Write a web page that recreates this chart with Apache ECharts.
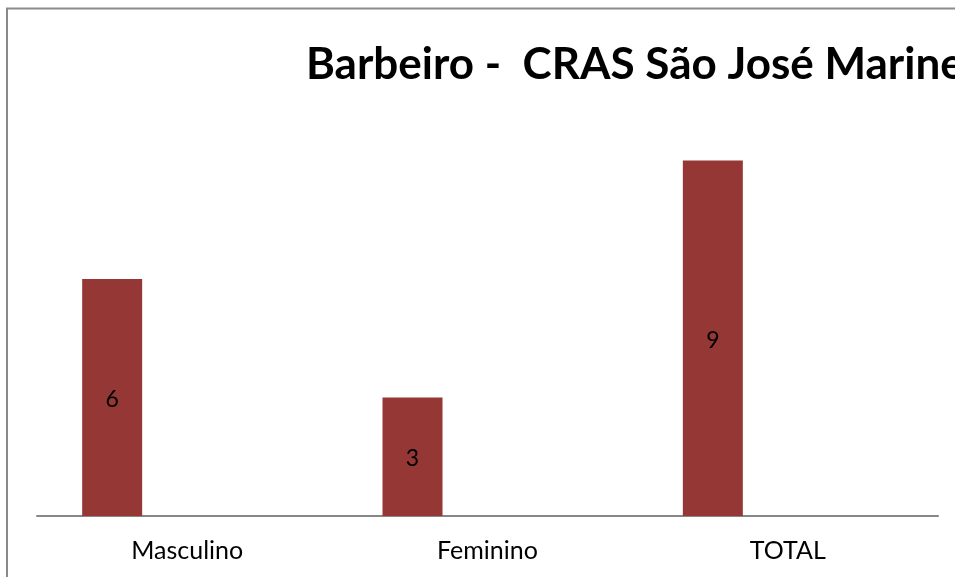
<!DOCTYPE html>
<html><head><meta charset="utf-8">
<script src="https://cdn.jsdelivr.net/npm/echarts@6/dist/echarts.min.js"></script>
<style>html,body{margin:0;padding:0;background:#fff}#c{width:955px;height:577px}</style>
</head><body><div id="c"></div>
<script>
const titleText = "Barbeiro -  CRAS São José Marine";
const categories = ["Masculino", "Feminino", "TOTAL"];
const values = [6, 3, 9];
const emptyA = [null, null, null];
const emptyB = [null, null, null];

const chart = echarts.init(document.getElementById('c'));
const font = "Lato, 'Open Sans', 'Liberation Sans', sans-serif";
chart.setOption({
  animation: false,
  graphic: [{
    type: 'rect', shape: {x: 7, y: 8.5, width: 1000, height: 1000},
    style: {fill: 'none', stroke: '#8a8a8a', lineWidth: 2}, silent: true, z: -1
  }],
  title: {
    text: titleText, left: 301, top: 38,
    textStyle: {fontFamily: font, fontWeight: 'bold', fontSize: 44, color: '#000'}
  },
  grid: {left: 37, right: 17, top: 121, bottom: 61},
  xAxis: {
    type: 'category', data: categories,
    axisLine: {lineStyle: {color: '#878787', width: 2}},
    axisTick: {show: false},
    axisLabel: {fontFamily: font, fontSize: 25, color: '#000', margin: 22}
  },
  yAxis: {
    type: 'value', min: 0, max: 10, show: false,
    splitLine: {show: false}
  },
  series: [
    {type: 'bar', data: values, barWidth: 60, barGap: '25%',
     itemStyle: {color: '#953735'},
     label: {show: true, position: 'inside', offset: [0, 2], fontFamily: font, fontSize: 23, color: '#000'}},
    {type: 'bar', data: emptyA, barWidth: 60, itemStyle: {color: '#4F81BD'}},
    {type: 'bar', data: emptyB, barWidth: 60, itemStyle: {color: '#9BBB59'}}
  ]
});
</script></body></html>
